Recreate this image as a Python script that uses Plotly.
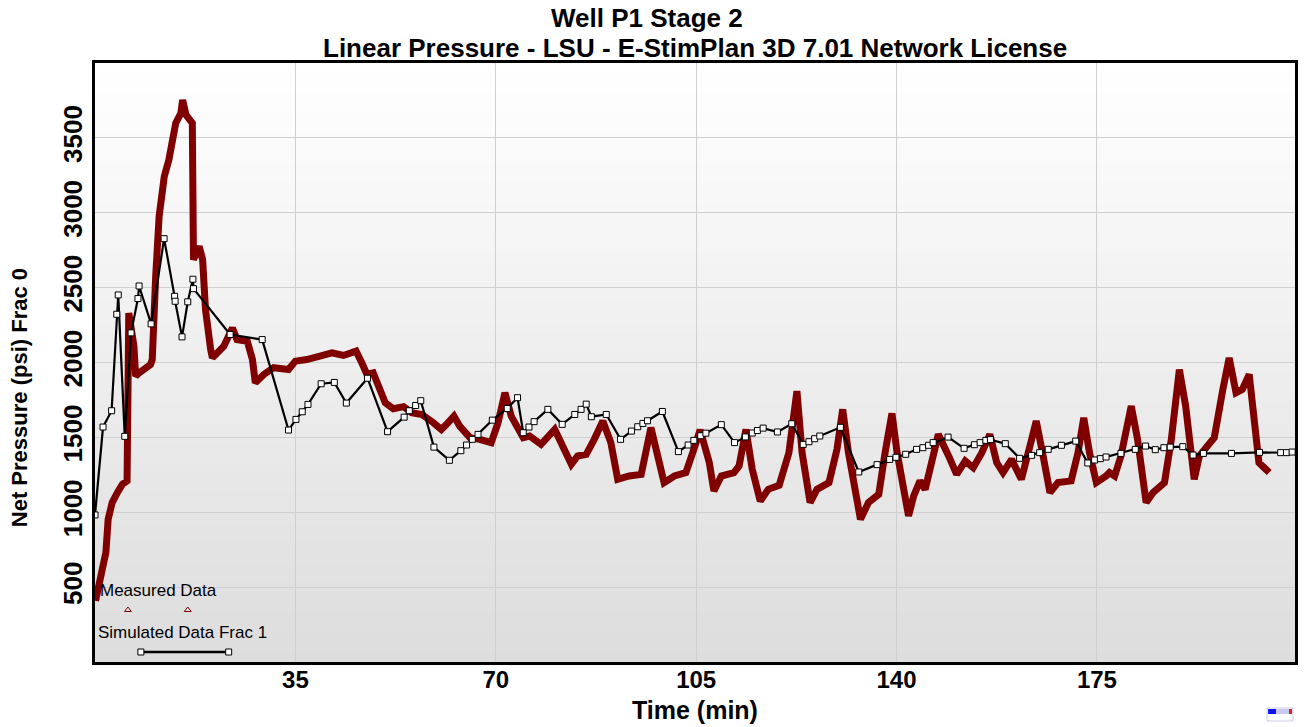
import plotly.graph_objects as go

# ---------------- data ----------------
meas_t = [0.1, 1.3, 1.9, 2.3, 3.0, 3.9, 4.8, 5.6, 5.9, 6.8, 7.1, 7.7, 9.7, 10.0, 10.1, 10.6, 11.2, 12.1,
          12.9, 13.5, 14.1, 15.0, 15.3, 15.9, 17.0, 17.2, 18.2, 18.8, 19.3, 20.2, 20.5, 22.5, 24.0, 24.8,
          26.6, 27.5, 28.0, 29.5, 31.2, 33.8, 35.0, 37.0, 39.4, 41.4, 43.4, 45.6, 46.6, 47.5, 48.6, 49.8,
          50.7, 52.1, 53.9, 55.3, 57.1, 59.1, 60.5, 61.4, 62.7, 63.7, 65.5, 67.2, 69.2, 70.4, 71.6, 72.7,
          74.8, 75.9, 77.9, 80.3, 81.4, 83.2, 84.3, 85.8, 87.2, 88.7, 90.1, 91.3, 93.3, 95.4, 97.1, 98.3,
          99.4, 101.2, 103.2, 104.6, 105.7, 107.3, 108.1, 109.4, 111.6, 112.5, 113.7, 114.8, 116.2, 117.6,
          119.5, 121.2, 122.2, 122.6, 123.5, 124.9, 126.1, 128.2, 129.6, 130.6, 131.6, 132.8, 133.7, 135.1,
          136.9, 138.0, 139.2, 140.1, 141.2, 142.1, 143.0, 144.1, 145.0, 145.9, 147.3, 149.1, 150.5, 152.0,
          153.4, 154.9, 156.3, 157.5, 158.6, 160.1, 161.8, 163.3, 164.4, 165.6, 166.8, 168.2, 170.5, 171.7,
          172.7, 173.7, 174.9, 176.6, 177.2, 178.1, 179.2, 181.0, 182.1, 183.6, 184.8, 186.8, 188.0, 189.4,
          190.5, 192.0, 192.9, 194.3, 195.5, 197.0, 198.1, 199.3, 200.4, 201.6, 202.2, 203.0, 203.3, 204.2,
          205.1]
meas_v = [409, 598, 731, 953, 1065, 1131, 1187, 1209, 2331, 2109, 1909, 1931, 1987, 2020, 2131, 2576, 2976, 3242,
          3353, 3465, 3598, 3665, 3753, 3653, 3598, 2687, 2776, 2687, 2353, 2087, 2031, 2109, 2231, 2153,
          2142, 2020, 1865, 1920, 1965, 1953, 2009, 2020, 2042, 2065, 2047, 2076, 1998, 1920, 1931, 1820,
          1731, 1691, 1705, 1665, 1653, 1598, 1553, 1587, 1642, 1575, 1498, 1487, 1465, 1598, 1798, 1642,
          1498, 1509, 1453, 1553, 1465, 1320, 1376, 1387, 1487, 1609, 1465, 1220, 1242, 1253, 1565, 1376,
          1198, 1242, 1265, 1420, 1550, 1331, 1142, 1242, 1265, 1309, 1553, 1287, 1075, 1153,
          1180, 1398, 1687, 1809, 1398, 1065, 1153, 1198, 1420, 1687, 1398, 1109, 953, 1065,
          1120, 1398, 1660, 1398, 1153, 975, 1109, 1209, 1153, 1309, 1520, 1376, 1253, 1342,
          1298, 1398, 1520, 1331, 1265, 1353, 1220, 1442, 1609, 1376, 1131, 1198, 1209, 1398,
          1631, 1398, 1198, 1242, 1265, 1242, 1376, 1709, 1487, 1065, 1131, 1198, 1487, 1953,
          1709, 1220, 1376, 1442, 1498, 1820, 2031, 1798, 1820, 1920, 1709, 1487, 1331, 1298,
          1265]

sim_t = [0.0, 1.4, 2.9, 3.8, 4.06, 5.2, 6.3, 7.5, 7.7, 9.8, 12.07, 13.9, 14.0, 15.2, 16.2, 17.1, 17.2,
         23.6, 29.2, 33.8, 35.1, 36.2, 37.2, 39.5, 41.8, 43.9, 47.6, 51.1, 54.0, 54.9, 56.0, 56.9, 59.2,
         61.9, 63.9, 64.9, 65.9, 66.9, 69.4, 72.0, 73.8, 74.8, 75.8, 76.7, 79.1, 81.6, 83.8, 84.9, 85.8,
         86.7, 89.3, 91.8, 93.7, 94.8, 95.7, 96.5, 99.1, 101.9, 103.6, 104.6, 105.8, 106.7, 109.4, 111.7,
         113.6, 114.8, 115.7, 116.7, 119.2, 121.7, 123.7, 124.7, 125.7, 126.6, 130.2, 133.4, 136.6, 138.8,
         139.9, 141.6, 143.5, 144.6, 145.6, 146.4, 149.0, 151.8, 153.6, 154.6, 155.6, 156.4, 159.0, 161.5,
         163.6, 165.0, 166.5, 168.8, 171.3, 173.4, 174.6, 175.6, 176.6, 179.2, 181.7, 183.5, 185.2, 186.7,
         187.8, 190.0, 191.8, 193.6, 198.5, 203.4, 207.1, 208.1, 209.1]
sim_v = [982, 1569, 1678, 2322, 2451, 1507, 2198, 2427, 2511, 2258, 2827, 2442, 2409, 2171, 2405, 2556, 2493,
         2187, 2153, 1549, 1620, 1671, 1720, 1858, 1867, 1729, 1895, 1538, 1635, 1678, 1713, 1745, 1435,
         1347, 1411, 1449, 1487, 1520, 1615, 1693, 1765, 1531, 1569, 1605, 1687, 1587, 1653, 1687, 1722,
         1638, 1653, 1487, 1542, 1571, 1593, 1611, 1673, 1405, 1449, 1480, 1511, 1528, 1585, 1465,
         1503, 1529, 1546, 1562, 1536, 1591, 1453, 1471, 1491, 1509, 1567, 1269, 1318, 1353,
         1367, 1387, 1420, 1431, 1447, 1465, 1502, 1427, 1451, 1465, 1480, 1485, 1458, 1360,
         1380, 1398, 1420, 1447, 1475, 1329, 1349, 1358, 1369, 1393, 1420, 1442, 1418, 1431,
         1435, 1438, 1382, 1393, 1393, 1400, 1398, 1398, 1402]

x_ticks = [35, 70, 105, 140, 175]
y_ticks = [500, 1000, 1500, 2000, 2500, 3000, 3500]

title_line1 = "Well P1 Stage 2"
title_line2 = "Linear Pressure - LSU - E-StimPlan 3D 7.01 Network License"
x_title = "Time (min)"
y_title = "Net Pressure (psi) Frac 0"
legend_names = ["Measured Data", "Simulated Data Frac 1"]

MAROON = "#800000"
FONT = "Liberation Sans, Arial, sans-serif"

# plot-area geometry in pixels (for placing texts)
L, R, T, B = 95, 1298, 63, 662
PW, PH = R - L, B - T
W, H = 1306, 727


def px(xp):
    return (xp - L) / PW


def py(yp):
    return (B - yp) / PH


fig = go.Figure()

# measured data
fig.add_trace(go.Scatter(x=meas_t, y=meas_v, mode="lines", name=legend_names[0],
                         line=dict(color=MAROON, width=7), showlegend=False))
# simulated data
fig.add_trace(go.Scatter(x=sim_t, y=sim_v, mode="lines+markers", name=legend_names[1],
                         line=dict(color="black", width=2.2),
                         marker=dict(symbol="square", size=6, color="white",
                                     line=dict(color="black", width=1)),
                         showlegend=False))

# custom in-plot legend samples (overlay axes in plot fractions)
fig.add_trace(go.Scatter(x=[px(128), px(188)], y=[py(610), py(610)], xaxis="x2", yaxis="y2",
                         mode="markers", showlegend=False, hoverinfo="skip",
                         marker=dict(symbol="triangle-up-open", size=6, color=MAROON,
                                     line=dict(width=1))))
fig.add_trace(go.Scatter(x=[px(141), px(229)], y=[py(652), py(652)], xaxis="x2", yaxis="y2",
                         mode="lines+markers", showlegend=False, hoverinfo="skip",
                         line=dict(color="black", width=2.5),
                         marker=dict(symbol="square", size=6, color="white",
                                     line=dict(color="black", width=1))))

# gradient background of plot area
n = 60
shapes = []
for i in range(n):
    f = i / (n - 1)
    c = int(round(255 - 34 * (1 - f)))
    shapes.append(dict(type="rect", xref="x domain", yref="y domain",
                       x0=0, x1=1, y0=i / n, y1=(i + 1) / n + 0.002,
                       fillcolor=f"rgb({c},{c},{c})", line=dict(width=0), layer="below"))

# tiny logo badge at bottom right
def prect(x0, y0, x1, y1, color, lw=0, lc=None):
    return dict(type="rect", xref="paper", yref="paper",
                x0=px(x0), x1=px(x1), y0=py(y1), y1=py(y0),
                fillcolor=color, line=dict(width=lw, color=lc or color))


shapes += [
    prect(1270, 708, 1296, 721, "white", 0.5, "#9999cc"),
    prect(1271, 709, 1279, 714, "#1010ff"),
    prect(1279, 709, 1292, 714, "#c8c8f0"),
    prect(1292, 709, 1295, 714, "#e02020"),
]

annotations = [
    dict(text=title_line1, xref="paper", yref="paper", x=px(648), y=py(18),
         xanchor="center", yanchor="middle", showarrow=False,
         font=dict(family=FONT, size=26, color="black", weight="bold")),
    dict(text=title_line2, xref="paper", yref="paper", x=px(696), y=py(48),
         xanchor="center", yanchor="middle", showarrow=False,
         font=dict(family=FONT, size=26, color="black", weight="bold")),
    dict(text=x_title, xref="paper", yref="paper", x=px(697), y=py(710),
         xanchor="center", yanchor="middle", showarrow=False,
         font=dict(family=FONT, size=25, color="black", weight="bold")),
    dict(text=y_title, xref="paper", yref="paper", x=px(19), y=py(398),
         xanchor="center", yanchor="middle", showarrow=False, textangle=-90,
         font=dict(family=FONT, size=22, color="black", weight="bold")),
    dict(text=legend_names[0], xref="paper", yref="paper", x=px(98),
         y=py(590), xanchor="left", yanchor="middle", showarrow=False,
         font=dict(family=FONT, size=17, color="black")),
    dict(text=legend_names[1], xref="paper", yref="paper", x=px(96),
         y=py(632), xanchor="left", yanchor="middle", showarrow=False,
         font=dict(family=FONT, size=17, color="black")),
]

fig.update_layout(
    width=W, height=H,
    margin=dict(l=L, r=W - R, t=T, b=H - B),
    paper_bgcolor="white", plot_bgcolor="white",
    shapes=shapes, annotations=annotations,
    font=dict(family=FONT, color="black"),
    xaxis=dict(range=[0, 209.6], tickvals=x_ticks, showgrid=True, gridcolor="#cfcfcf",
               gridwidth=1, zeroline=False, showline=True, linecolor="black", linewidth=3,
               mirror=True, ticks="", ticklabelstandoff=-6,
               tickfont=dict(family=FONT, size=24, weight="bold")),
    yaxis=dict(range=[0, 4000], tickvals=y_ticks, showgrid=True, gridcolor="#cfcfcf",
               gridwidth=1, zeroline=False, showline=True, linecolor="black", linewidth=3,
               mirror=True, ticks="", tickangle=-90,
               tickfont=dict(family=FONT, size=26, weight="bold")),
    xaxis2=dict(overlaying="x", range=[0, 1], visible=False),
    yaxis2=dict(overlaying="y", range=[0, 1], visible=False),
)

fig.write_html("out.html", config={"displayModeBar": False},
               post_script="document.body.style.margin='0';")
